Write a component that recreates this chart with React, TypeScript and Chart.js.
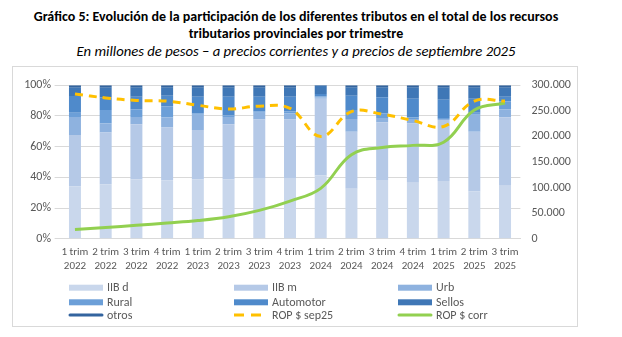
import React, { useEffect, useRef } from "react";
import { Chart, registerables } from "chart.js";

Chart.register(...registerables);

const categories: string[][] = [
  ["1 trim", "2022"], ["2 trim", "2022"], ["3 trim", "2022"], ["4 trim", "2022"],
  ["1 trim", "2023"], ["2 trim", "2023"], ["3 trim", "2023"], ["4 trim", "2023"],
  ["1 trim", "2024"], ["2 trim", "2024"], ["3 trim", "2024"], ["4 trim", "2024"],
  ["1 trim", "2025"], ["2 trim", "2025"], ["3 trim", "2025"],
];

// shares in % of total provincial tax resources
const iibD = [34.2, 35.5, 38.6, 38.0, 38.6, 38.6, 39.6, 39.6, 41.1, 32.6, 38.2, 36.5, 37.6, 30.7, 34.5];
const iibM = [33.4, 33.7, 36.0, 34.4, 32.2, 35.9, 38.0, 38.0, 50.0, 37.1, 37.7, 38.6, 39.7, 38.9, 44.7];
const urb = [11.7, 5.9, 4.7, 6.6, 9.9, 4.8, 4.5, 4.2, 0.9, 8.3, 2.8, 2.9, 0.7, 11.1, 5.1];
const rural = [2.7, 8.7, 5.0, 7.3, 1.1, 1.2, 0.9, 1.2, 0.6, 5.8, 3.1, 1.0, 0.6, 1.3, 5.3];
const automotor = [11.0, 8.4, 8.2, 6.9, 10.7, 12.0, 9.5, 9.5, 1.6, 9.4, 10.3, 12.1, 11.9, 9.1, 2.9];
const sellos = [5.3, 6.1, 5.8, 5.1, 5.8, 5.8, 5.8, 5.8, 5.6, 5.1, 6.2, 7.2, 7.8, 7.2, 5.8];
const otros = [1.7, 1.7, 1.7, 1.7, 1.7, 1.7, 1.7, 1.7, 1.2, 1.7, 1.7, 1.7, 1.7, 1.7, 1.7];

// millions of pesos
const ropSep25 = [282700, 275200, 270200, 268900, 260800, 253400, 259000, 254700, 199800, 248300, 243500, 231000, 219200, 268900, 269000];
const ropCorr = [18100, 21800, 26100, 30600, 35500, 43000, 55400, 73600, 98400, 164300, 178100, 182400, 188600, 251500, 265100];

const leftTicks = [0, 20, 40, 60, 80, 100];
const rightTicks = [0, 50000, 100000, 150000, 200000, 250000, 300000];

const FONT = "'Carlito', 'Liberation Sans', Arial, sans-serif";
const GREY = "#595959";

const fmtThousands = (v: number) =>
  String(Math.round(v)).replace(/\B(?=(\d{3})+(?!\d))/g, ".");

const legendPlugin = {
  id: "gridLegend",
  afterDraw(chart: any) {
    const ctx = chart.ctx as CanvasRenderingContext2D;
    const ds = chart.data.datasets;
    const colX = [56, 221, 385];
    const rowY = [220.7, 235.3, 248];
    const sw = 34;
    ctx.save();
    ctx.font = `12px ${FONT}`;
    ctx.textBaseline = "middle";
    ctx.fillStyle = GREY;
    ds.forEach((d: any, i: number) => {
      const col = i % 3;
      const row = Math.floor(i / 3);
      const x = colX[col];
      const y = rowY[row];
      if (d.type === "line" || d.legendLine) {
        ctx.save();
        ctx.strokeStyle = d.borderColor || d.backgroundColor;
        ctx.lineWidth = 3;
        ctx.lineCap = d.borderDash ? "butt" : "round";
        if (d.borderDash) ctx.setLineDash([10, 7]);
        ctx.beginPath();
        ctx.moveTo(x + (d.borderDash ? 0 : 1), y);
        ctx.lineTo(x + sw - (d.borderDash ? 0 : 1), y);
        ctx.stroke();
        ctx.restore();
      } else {
        ctx.fillStyle = d.backgroundColor;
        ctx.fillRect(x, y - 3, sw, 6);
      }
      ctx.fillStyle = GREY;
      ctx.fillText(d.label, x + sw + 4, y + 0.5);
    });
    ctx.restore();
  },
};

export default function App() {
  const ref = useRef<HTMLCanvasElement | null>(null);

  useEffect(() => {
    if (!ref.current) return;
    const bar = (label: string, data: number[], color: string, extra: any = {}) => ({
      type: "bar" as const,
      label,
      data,
      backgroundColor: color,
      borderWidth: 0,
      stack: "s",
      yAxisID: "y",
      order: 2,
      barPercentage: 0.39,
      categoryPercentage: 1,
      ...extra,
    });
    const chart = new Chart(ref.current, {
      type: "bar",
      data: {
        labels: categories,
        datasets: [
          bar("IIB d", iibD, "#c9d7ec"),
          bar("IIB m", iibM, "#b5c9e7"),
          bar("Urb", urb, "#8eb2df"),
          bar("Rural", rural, "#6c9fd8"),
          bar("Automotor", automotor, "#4f8acb"),
          bar("Sellos", sellos, "#3f77b6"),
          bar("otros", otros, "#33649f", { legendLine: true, borderColor: "#33649f" }),
          {
            type: "line" as const,
            label: "ROP $ sep25",
            data: ropSep25,
            borderColor: "#ffc000",
            backgroundColor: "#ffc000",
            borderWidth: 3,
            borderDash: [8, 6],
            pointRadius: 0,
            tension: 0.4,
            yAxisID: "y1",
            order: 0,
          },
          {
            type: "line" as const,
            label: "ROP $ corr",
            data: ropCorr,
            borderColor: "#92d050",
            backgroundColor: "#92d050",
            borderWidth: 3,
            pointRadius: 0,
            tension: 0.4,
            yAxisID: "y1",
            order: 1,
          },
        ] as any,
      },
      options: {
        animation: false,
        responsive: false,
        maintainAspectRatio: false,
        layout: { padding: { left: 0, right: 0, top: 11, bottom: 52.3 } },
        plugins: {
          legend: { display: false },
          tooltip: { enabled: false },
          title: { display: false },
        },
        scales: {
          x: {
            stacked: true,
            grid: { display: false, drawTicks: false },
            border: { display: true, color: "#d9d9d9" },
            ticks: {
              color: GREY,
              font: { family: FONT, size: 11, lineHeight: 1.3 },
              padding: 6,
              maxRotation: 0,
              minRotation: 0,
              autoSkip: false,
            },
            afterFit: (s: any) => { s.height = 35; },
          },
          y: {
            stacked: true,
            min: 0,
            max: 100,
            afterBuildTicks: (s: any) => { s.ticks = leftTicks.map((v) => ({ value: v })); },
            grid: { color: "#d9d9d9", tickLength: 5, drawTicks: true },
            border: { display: false },
            ticks: {
              color: GREY,
              font: { family: FONT, size: 12 },
              padding: 3.6,
              callback: (v: any) => `${v}%`,
            },
            afterFit: (s: any) => { s.width = 46.6; },
          },
          y1: {
            position: "right",
            min: 0,
            max: 300000,
            afterBuildTicks: (s: any) => { s.ticks = rightTicks.map((v) => ({ value: v })); },
            grid: { display: false, drawTicks: false },
            border: { display: false },
            ticks: {
              color: GREY,
              font: { family: FONT, size: 12 },
              padding: 11,
              callback: (v: any) => fmtThousands(Number(v)),
            },
            afterFit: (s: any) => { s.width = 56.6; },
          },
        },
      } as any,
      plugins: [legendPlugin],
    });
    return () => chart.destroy();
  }, []);

  return (
    <div style={{ position: "fixed", left: 0, top: 0, width: 622, height: 337, background: "#fff", overflow: "hidden" }}>
      <div style={{ position: "absolute", left: 0, top: 8, width: 592, textAlign: "center", fontFamily: FONT, fontWeight: "bold", fontSize: 14, lineHeight: "17px", color: "#000" }}>
        <div style={{ whiteSpace: "nowrap" }}>Gráfico 5: Evolución de la participación de los diferentes tributos en el total de los recursos</div>
        <div style={{ whiteSpace: "nowrap" }}>tributarios provinciales por trimestre</div>
      </div>
      <div style={{ position: "absolute", left: 0, top: 43, width: 592, textAlign: "center", fontFamily: FONT, fontStyle: "italic", fontSize: 14.7, lineHeight: "17px", whiteSpace: "nowrap", color: "#000" }}>
        En millones de pesos – a precios corrientes y a precios de septiembre 2025
      </div>
      <div style={{ position: "absolute", left: 12, top: 66, width: 564, height: 259, border: "1px solid #d9d9d9" }}>
        <canvas ref={ref} width={564} height={259} style={{ width: 564, height: 259, display: "block" }} />
      </div>
    </div>
  );
}
